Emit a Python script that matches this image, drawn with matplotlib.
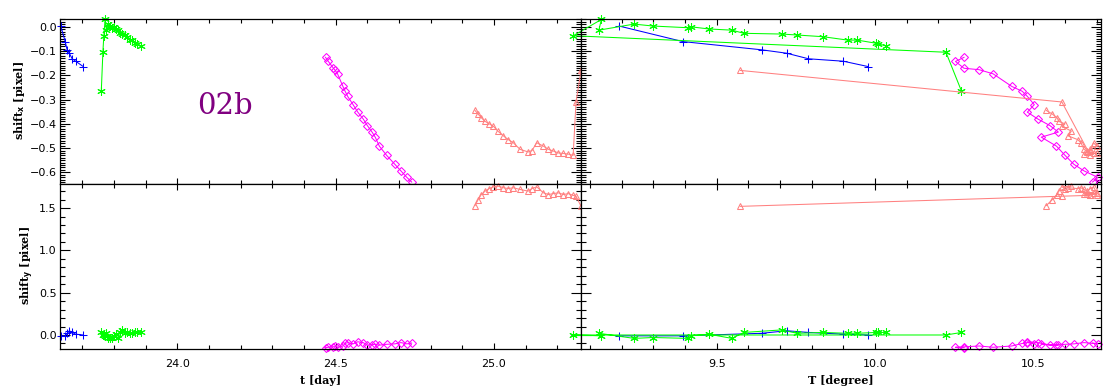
import matplotlib
matplotlib.use("Agg")
import matplotlib.pyplot as plt
from matplotlib.ticker import MultipleLocator

# run 1: blue plus
t_blue = [23.632, 23.646, 23.652, 23.659, 23.668, 23.679, 23.703]
T_blue = [9.192, 9.393, 9.642, 9.721, 9.790, 9.900, 9.978]
sx_blue = [0.003, -0.061, -0.095, -0.109, -0.132, -0.142, -0.164]
sy_blue = [-0.01, -0.01, 0.02, 0.05, 0.03, 0.01, 0.0]

# run 2: green asterisk
t_green = [23.760, 23.765, 23.768, 23.772, 23.776, 23.782, 23.788, 23.794, 23.799, 23.805,
           23.812, 23.818, 23.826, 23.834, 23.842, 23.850, 23.858, 23.866, 23.874, 23.884]
T_green = [10.273, 10.224, 9.047, 9.136, 9.128, 9.239, 9.299, 9.410, 9.418, 9.475,
           9.548, 9.586, 9.705, 9.754, 9.836, 9.914, 9.944, 10.004, 10.009, 10.034]
sx_green = [-0.265, -0.105, -0.037, 0.030, -0.014, 0.011, 0.003, -0.004, 0.000, -0.009,
            -0.014, -0.027, -0.030, -0.034, -0.041, -0.055, -0.055, -0.068, -0.071, -0.078]
sy_green = [0.03, 0.00, 0.00, -0.01, 0.02, -0.04, -0.03, -0.04, -0.01, 0.01,
            -0.04, 0.03, 0.06, 0.02, 0.03, 0.02, 0.02, 0.03, 0.03, 0.03]

# run 3: magenta diamond
t_mag = [24.468, 24.477, 24.493, 24.497, 24.506, 24.523, 24.530, 24.538, 24.555, 24.570,
         24.587, 24.600, 24.615, 24.625, 24.638, 24.661, 24.687, 24.706, 24.725, 24.740]
T_mag = [10.281, 10.254, 10.281, 10.329, 10.373, 10.432, 10.465, 10.481, 10.503, 10.481,
         10.514, 10.552, 10.579, 10.525, 10.573, 10.600, 10.628, 10.660, 10.704, 10.687]
sx_mag = [-0.126, -0.143, -0.171, -0.177, -0.194, -0.246, -0.266, -0.287, -0.321, -0.352,
          -0.380, -0.407, -0.434, -0.455, -0.492, -0.530, -0.567, -0.594, -0.621, -0.640]
sy_mag = [-0.15, -0.145, -0.14, -0.13, -0.145, -0.13, -0.10, -0.09, -0.105, -0.08,
          -0.09, -0.12, -0.115, -0.11, -0.12, -0.11, -0.105, -0.09, -0.105, -0.095]

# run 4: salmon triangle
t_sal = [24.940, 24.950, 24.960, 24.972, 24.985, 24.998, 25.012, 25.030, 25.045, 25.061,
         25.082, 25.108, 25.120, 25.135, 25.156, 25.172, 25.187, 25.203, 25.219, 25.235,
         25.250, 25.259, 25.275]
T_sal = [10.541, 10.560, 10.575, 10.580, 10.600, 10.590, 10.620, 10.610, 10.640, 10.650,
         10.660, 10.670, 10.680, 10.690, 10.700, 10.680, 10.670, 10.690, 10.700, 10.660,
         10.680, 10.590, 9.575]
sx_sal = [-0.345, -0.360, -0.375, -0.390, -0.400, -0.410, -0.430, -0.450, -0.465, -0.478,
          -0.505, -0.516, -0.510, -0.478, -0.492, -0.505, -0.512, -0.520, -0.522, -0.525,
          -0.530, -0.310, -0.180]
sy_sal = [1.53, 1.60, 1.66, 1.70, 1.73, 1.75, 1.76, 1.74, 1.73, 1.74,
          1.72, 1.70, 1.73, 1.75, 1.68, 1.66, 1.67, 1.68, 1.66, 1.67,
          1.65, 1.64, 1.52]

runs = [
    (t_blue, T_blue, sx_blue, sy_blue, "#0000ff", dict(marker="+", ms=6)),
    (t_green, T_green, sx_green, sy_green, "#00ff00", dict(marker=(6, 2, 0), ms=6)),
    (t_mag, T_mag, sx_mag, sy_mag, "#ff00ff", dict(marker="D", ms=4, mfc="none")),
    (t_sal, T_sal, sx_sal, sy_sal, "#ff8080", dict(marker="^", ms=5, mfc="none")),
]

W, H = 1120, 390
fig = plt.figure(figsize=(W / 100, H / 100), dpi=100)


def add_ax(x0, y0, x1, y1):
    return fig.add_axes([x0 / W, 1 - y1 / H, (x1 - x0) / W, (y1 - y0) / H])


ax_tl = add_ax(60, 19, 581.3, 183.5)
ax_tr = add_ax(581.3, 19, 1101, 183.5)
ax_bl = add_ax(60, 183.5, 581.3, 348.7)
ax_br = add_ax(581.3, 183.5, 1101, 348.7)

for t, T, sx, sy, col, mk in runs:
    for ax, xs, ys in [(ax_tl, t, sx), (ax_tr, T, sx), (ax_bl, t, sy), (ax_br, T, sy)]:
        ax.plot(xs, ys, color=col, lw=0.75, mec=col, mew=0.75, clip_on=False, **mk)

for ax in [ax_tl, ax_tr, ax_bl, ax_br]:
    ax.xaxis.set_major_locator(MultipleLocator(0.5))
    ax.xaxis.set_minor_locator(MultipleLocator(0.1))
    ax.tick_params(which="both", direction="in", top=True, right=True, labelsize=8,
                   width=0.8, colors="black")
    ax.tick_params(axis="x", which="major", length=4, pad=7.5)
    ax.tick_params(axis="x", which="minor", length=3)
    ax.tick_params(axis="y", which="major", length=7.5, pad=2.5)
    ax.tick_params(axis="y", which="minor", length=3.8)
    for s in ax.spines.values():
        s.set_linewidth(0.9)

for ax in [ax_tl, ax_tr]:
    ax.set_ylim(-0.646, 0.032)
    ax.yaxis.set_major_locator(MultipleLocator(0.1))
    ax.yaxis.set_minor_locator(MultipleLocator(0.01))
    ax.tick_params(labelbottom=False)
for ax in [ax_bl, ax_br]:
    ax.set_ylim(-0.162, 1.79)
    ax.yaxis.set_major_locator(MultipleLocator(0.5))
    ax.yaxis.set_minor_locator(MultipleLocator(0.1))

for ax in [ax_tl, ax_bl]:
    ax.set_xlim(23.6296, 25.2757)
for ax in [ax_tr, ax_br]:
    ax.set_xlim(9.0726, 10.7136)
    ax.tick_params(labelleft=False)

ax_tl.yaxis.set_major_formatter(lambda v, p: f"{v:.1f}".replace("-", "\u2212"))
ax_bl.yaxis.set_major_formatter(lambda v, p: f"{v:.1f}")
ax_bl.xaxis.set_major_formatter(lambda v, p: f"{v:.1f}")
ax_br.xaxis.set_major_formatter(lambda v, p: f"{v:.1f}")

lab = dict(family="DejaVu Serif", weight="bold", fontsize=8, ha="center", va="center")
fig.text(20 / W, 1 - 101 / H, "shift$_\\mathbf{x}$ [pixel]", rotation=90, **lab)
fig.text(27 / W, 1 - 266 / H, "shift$_\\mathbf{y}$ [pixel]", rotation=90, **lab)
fig.text(321 / W, 1 - 381 / H, "t [day]", **lab)
fig.text(841 / W, 1 - 381 / H, "T [degree]", **lab)

fig.text(225 / W, 1 - 106 / H, "02b", family="DejaVu Serif", fontsize=21,
         color="#800080", ha="center", va="center")

fig.savefig("out.png", dpi=100)
